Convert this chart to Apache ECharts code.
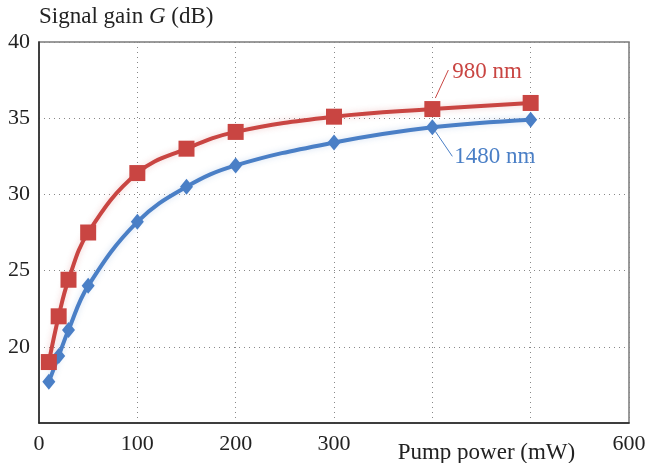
<!DOCTYPE html>
<html>
<head>
<meta charset="utf-8">
<script src="https://cdn.jsdelivr.net/npm/echarts@6/dist/echarts.min.js"></script>
<style>
  html, body { margin: 0; padding: 0; background: #fff; }
  #main { width: 649px; height: 463px; }
</style>
</head>
<body>
<div id="main"></div>
<script>
// pump power (mW)
var power = [10, 20, 30, 50, 100, 150, 200, 300, 400, 500];
// signal gain (dB)
var gain980 = [19.0, 22.0, 24.4, 27.5, 31.4, 33.0, 34.1, 35.1, 35.6, 36.0];
var gain1480 = [17.7, 19.4, 21.1, 24.0, 28.2, 30.5, 31.9, 33.4, 34.4, 34.9];
var hiddenXLabels = [400, 500];

var red = '#c94542';
var blue = '#4a7fc6';
var serif = '"Liberation Serif", "DejaVu Serif", serif';

function pairs(xs, ys) {
  return xs.map(function (x, i) { return [x, ys[i]]; });
}

var myChart = echarts.init(document.getElementById('main'));

var option = {
  animation: false,
  grid: { left: 39, top: 42, right: 20, bottom: 40, show: true, borderColor: '#7a7a7a', borderWidth: 1.5 },
  xAxis: {
    type: 'value',
    min: 0,
    max: 600,
    interval: 100,
    axisLine: { show: true, onZero: false, lineStyle: { color: '#222', width: 1.5 } },
    axisTick: { show: false },
    axisLabel: {
      color: '#222', fontFamily: serif, fontSize: 22, margin: 10,
      formatter: function (v) { return hiddenXLabels.indexOf(v) >= 0 ? '' : v; }
    },
    splitLine: { show: true, lineStyle: { color: '#888', type: [1, 4], width: 1 } }
  },
  yAxis: {
    type: 'value',
    min: 15,
    max: 40,
    interval: 5,
    axisLine: { show: true, onZero: false, lineStyle: { color: '#222', width: 1.5 } },
    axisTick: { show: false },
    axisLabel: {
      color: '#222', fontFamily: serif, fontSize: 22, margin: 9,
      formatter: function (v) { return v === 15 ? '' : v; }
    },
    splitLine: { show: true, lineStyle: { color: '#888', type: [1, 4], width: 1 } },
    name: '{n|Signal gain }{i|G}{n| (dB)}',
    nameLocation: 'end',
    nameGap: 14,
    nameTextStyle: {
      align: 'left',
      rich: {
        n: { fontFamily: serif, fontSize: 23, color: '#222' },
        i: { fontFamily: serif, fontSize: 23, color: '#222', fontStyle: 'italic' }
      }
    }
  },
  series: [
    {
      name: '1480 nm',
      type: 'line',
      smooth: 0.4,
      data: pairs(power, gain1480),
      symbol: 'diamond',
      symbolSize: [13, 16],
      lineStyle: { color: blue, width: 4, shadowColor: 'rgba(74,127,198,0.25)', shadowBlur: 6 },
      itemStyle: { color: blue },
      z: 2
    },
    {
      name: '980 nm',
      type: 'line',
      smooth: 0.4,
      data: pairs(power, gain980),
      symbol: 'rect',
      symbolSize: 16,
      lineStyle: { color: red, width: 4, shadowColor: 'rgba(201,69,66,0.25)', shadowBlur: 6 },
      itemStyle: { color: red },
      z: 3
    }
  ]
};

myChart.setOption(option);

// annotations placed relative to the data point at 400 mW
var p980 = myChart.convertToPixel({ gridIndex: 0 }, [400, gain980[8]]);
var p1480 = myChart.convertToPixel({ gridIndex: 0 }, [400, gain1480[8]]);
var xName = myChart.convertToPixel({ gridIndex: 0 }, [455, 15]);

myChart.setOption({
  graphic: [
    { type: 'line', shape: { x1: p980[0] + 3, y1: p980[1] - 11, x2: p980[0] + 16, y2: p980[1] - 39 },
      style: { stroke: red, lineWidth: 1 } },
    { type: 'text', x: p980[0] + 20, y: p980[1] - 37,
      style: { text: '980 nm', fill: red, font: '23px ' + serif, textVerticalAlign: 'middle' } },
    { type: 'line', shape: { x1: p1480[0] + 3, y1: p1480[1] + 4, x2: p1480[0] + 20, y2: p1480[1] + 29 },
      style: { stroke: blue, lineWidth: 1 } },
    { type: 'text', x: p1480[0] + 22, y: p1480[1] + 30,
      style: { text: '1480 nm', fill: blue, font: '23px ' + serif, textVerticalAlign: 'middle' } },
    { type: 'text', x: xName[0], y: 453,
      style: { text: 'Pump power (mW)', fill: '#222', font: '23px ' + serif, textAlign: 'center', textVerticalAlign: 'middle' } }
  ]
});
</script>
</body>
</html>
